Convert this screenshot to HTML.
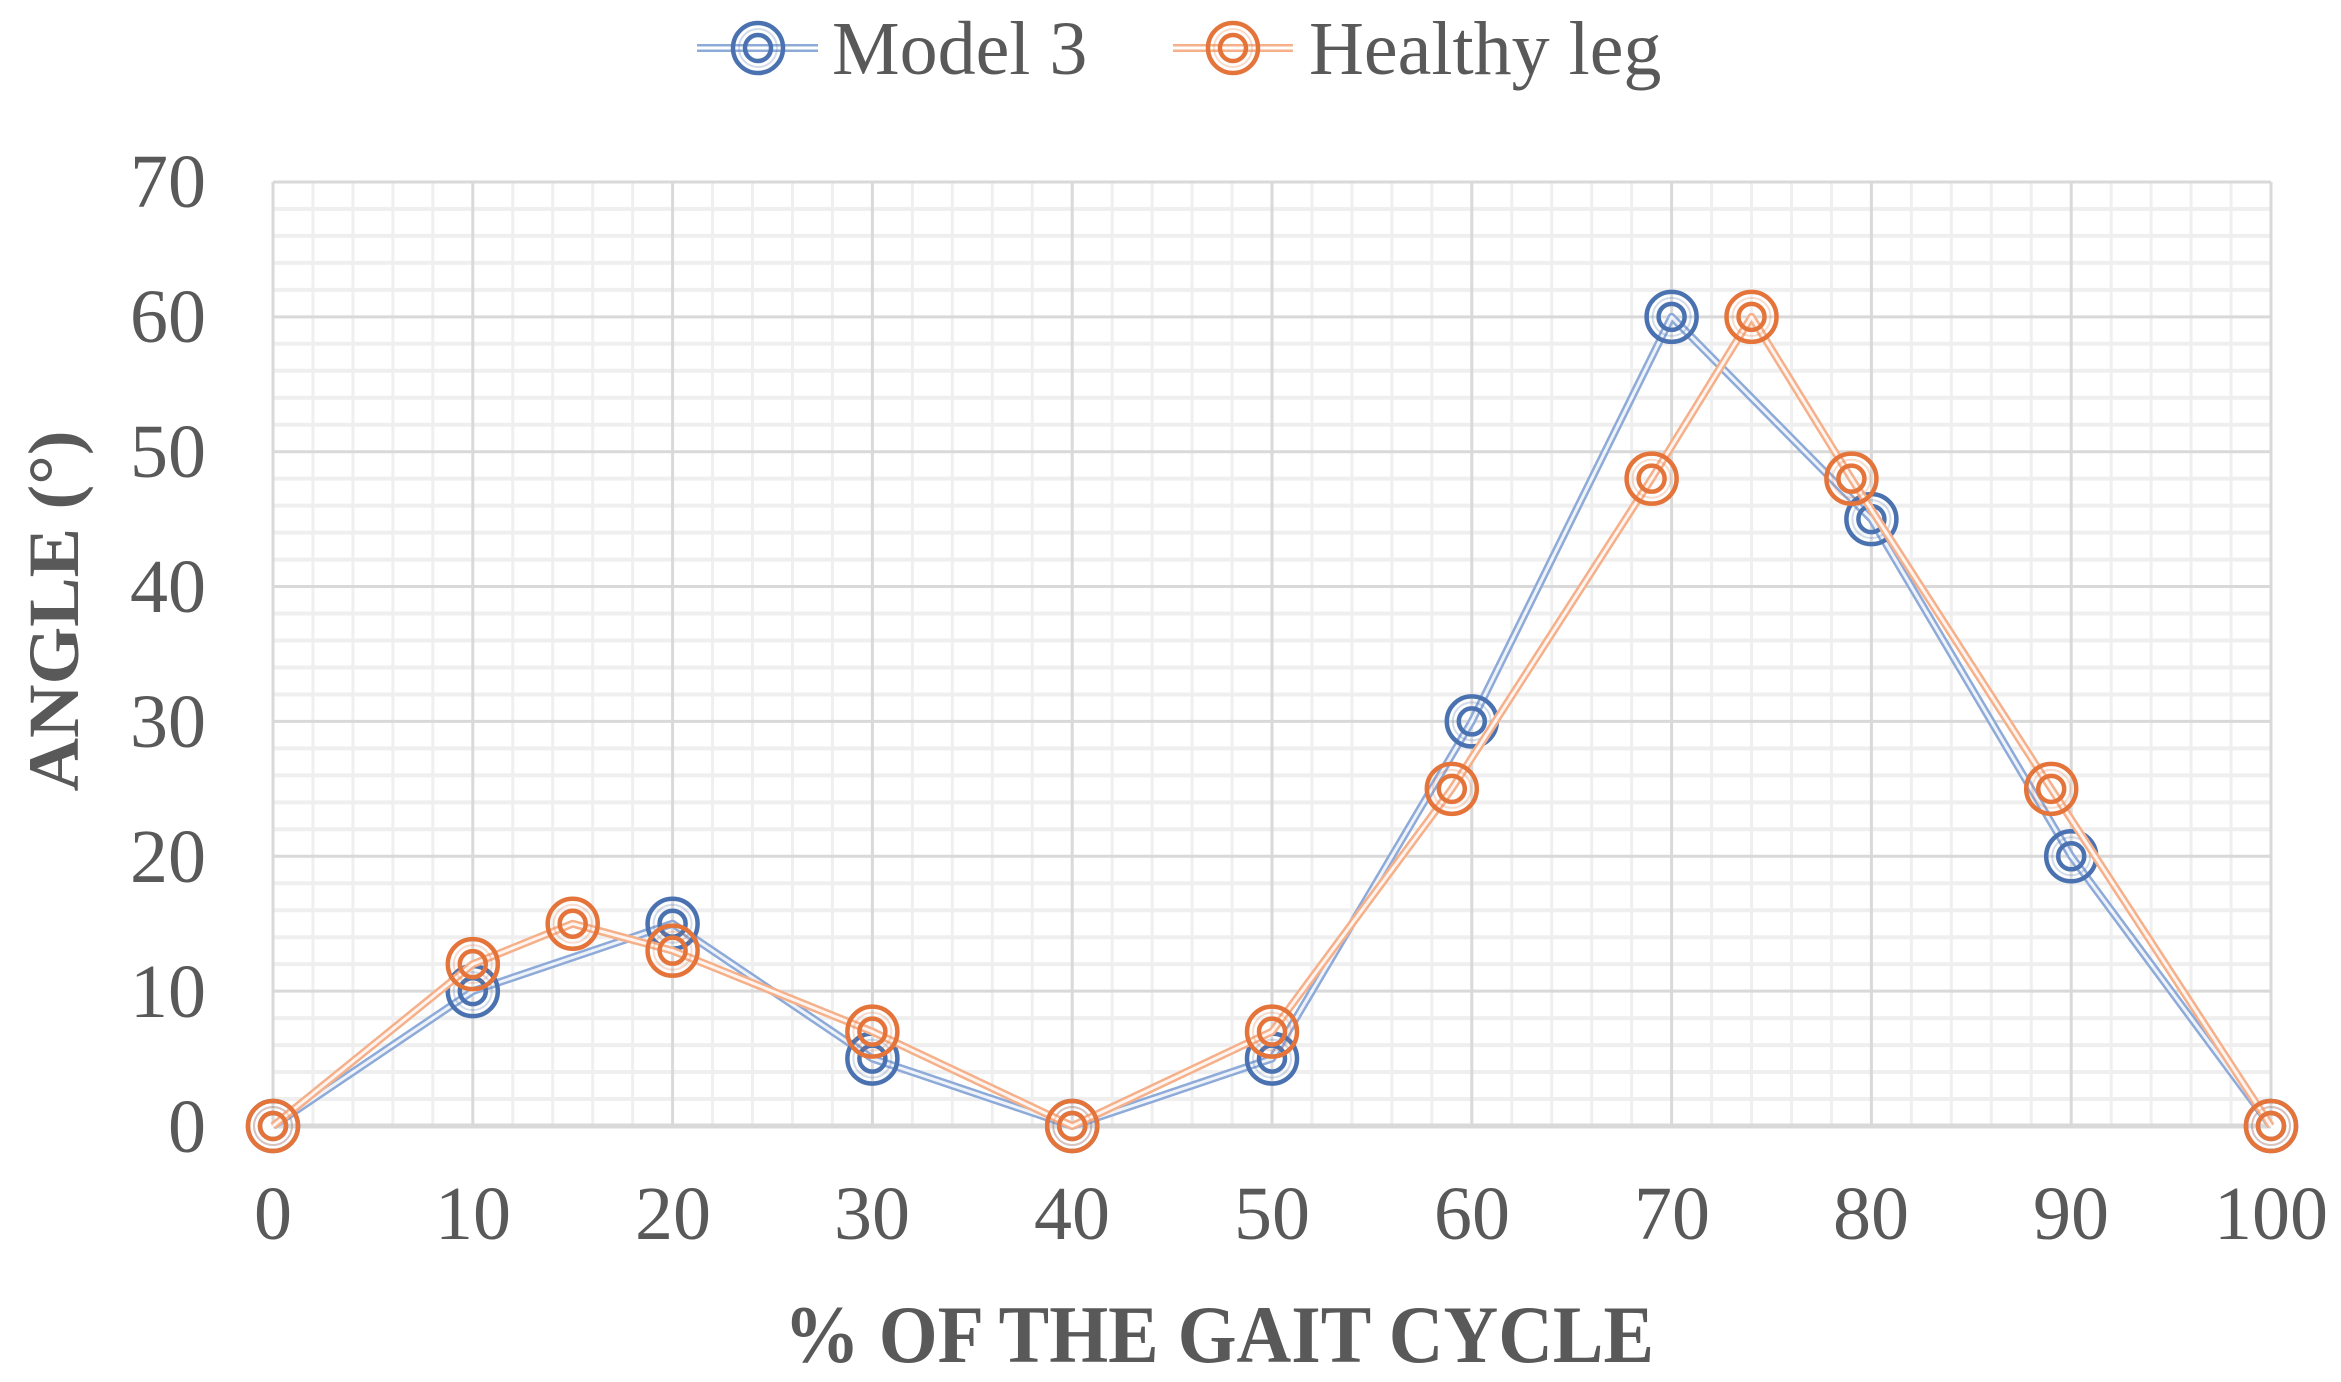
<!DOCTYPE html>
<html><head><meta charset="utf-8"><style>
html,body{margin:0;padding:0;background:#fff;}
svg{display:block;}
text{font-family:"Liberation Serif",serif;fill:#595959;}
</style></head><body>
<svg id="s" width="2341" height="1382" viewBox="0 0 2341 1382" xmlns="http://www.w3.org/2000/svg">
<g id="grid"></g>
<g id="series"></g>
<g font-size="76" text-anchor="end">
<text x="206" y="1152">0</text>
<text x="206" y="1017">10</text>
<text x="206" y="882">20</text>
<text x="206" y="747">30</text>
<text x="206" y="612">40</text>
<text x="206" y="477">50</text>
<text x="206" y="342">60</text>
<text x="206" y="207">70</text>
</g>
<g font-size="76" text-anchor="middle">
<text x="273" y="1239">0</text>
<text x="473" y="1239">10</text>
<text x="673" y="1239">20</text>
<text x="872" y="1239">30</text>
<text x="1072" y="1239">40</text>
<text x="1272" y="1239">50</text>
<text x="1472" y="1239">60</text>
<text x="1672" y="1239">70</text>
<text x="1871" y="1239">80</text>
<text x="2071" y="1239">90</text>
<text x="2271" y="1239">100</text>
</g>
<text x="784" y="1362" font-size="82" font-weight="bold" textLength="870" lengthAdjust="spacingAndGlyphs">% OF THE GAIT CYCLE</text>
<text transform="translate(78,611) rotate(-90)" text-anchor="middle" font-size="72" font-weight="bold" textLength="361" lengthAdjust="spacingAndGlyphs">ANGLE (°)</text>
<g id="legend"></g>
<text x="832" y="74" font-size="76">Model 3</text>
<text x="1309" y="74" font-size="76">Healthy leg</text>
</svg>
<script>
var NS="http://www.w3.org/2000/svg";
function X(v){return 273+v*19.98;}
function Y(v){return 1126-v*13.486;}
function el(p,t,a){var e=document.createElementNS(NS,t);for(var k in a)e.setAttribute(k,a[k]);p.appendChild(e);return e;}
var g=document.getElementById('grid');
for(var i=0;i<=100;i+=2){if(i%10)el(g,'line',{x1:X(i),x2:X(i),y1:Y(0),y2:Y(70),stroke:'#efefef','stroke-width':3});}
for(var j=0;j<=70;j+=2){if(j%10)el(g,'line',{x1:X(0),x2:X(100),y1:Y(j),y2:Y(j),stroke:'#efefef','stroke-width':4});}
for(var i=0;i<=100;i+=10)el(g,'line',{x1:X(i),x2:X(i),y1:Y(0),y2:Y(70),stroke:'#d9d9d9','stroke-width':3});
for(var j=10;j<=70;j+=10)el(g,'line',{x1:X(0),x2:X(100),y1:Y(j),y2:Y(j),stroke:'#d9d9d9','stroke-width':3});
el(g,'line',{x1:X(0),x2:X(100),y1:Y(0),y2:Y(0),stroke:'#d9d9d9','stroke-width':5});
var s=document.getElementById('series');
var A=[[0,0],[10,10],[20,15],[30,5],[40,0],[50,5],[60,30],[70,60],[80,45],[90,20],[100,0]];
var B=[[0,0],[10,12],[15,15],[20,13],[30,7],[40,0],[50,7],[59,25],[69,48],[74,60],[79,48],[89,25],[100,0]];
function series(d,lc,mc){
 var pts=d.map(function(p){return X(p[0])+','+Y(p[1]);}).join(' ');
 el(s,'polyline',{points:pts,fill:'none',stroke:lc,'stroke-width':8,'stroke-linejoin':'round'});
 el(s,'polyline',{points:pts,fill:'none',stroke:'#fff','stroke-width':3,'stroke-opacity':0.85,'stroke-linejoin':'round'});
 d.forEach(function(p){marker(s,X(p[0]),Y(p[1]),mc);});
}
function marker(p,x,y,c){
 el(p,'circle',{cx:x,cy:y,r:25,fill:'none',stroke:c,'stroke-width':4.5});
 el(p,'circle',{cx:x,cy:y,r:13,fill:'none',stroke:c,'stroke-width':4.5});
 el(p,'circle',{cx:x,cy:y,r:19,fill:'none',stroke:c,'stroke-width':2,'stroke-opacity':0.25});
}
series(A,'#8eaad8','#4a72b0');
series(B,'#f5b08a','#e4743a');
var L=document.getElementById('legend');
function leg(x1,x2,cx,lc,mc){
 el(L,'line',{x1:x1,x2:x2,y1:48,y2:48,stroke:lc,'stroke-width':8});
 el(L,'line',{x1:x1,x2:x2,y1:48,y2:48,stroke:'#fff','stroke-width':3});
 marker(L,cx,48,mc);
}
leg(697,818,758,'#8eaad8','#4a72b0');
leg(1173,1293,1233,'#f5b08a','#e4743a');
</script>
</body></html>
